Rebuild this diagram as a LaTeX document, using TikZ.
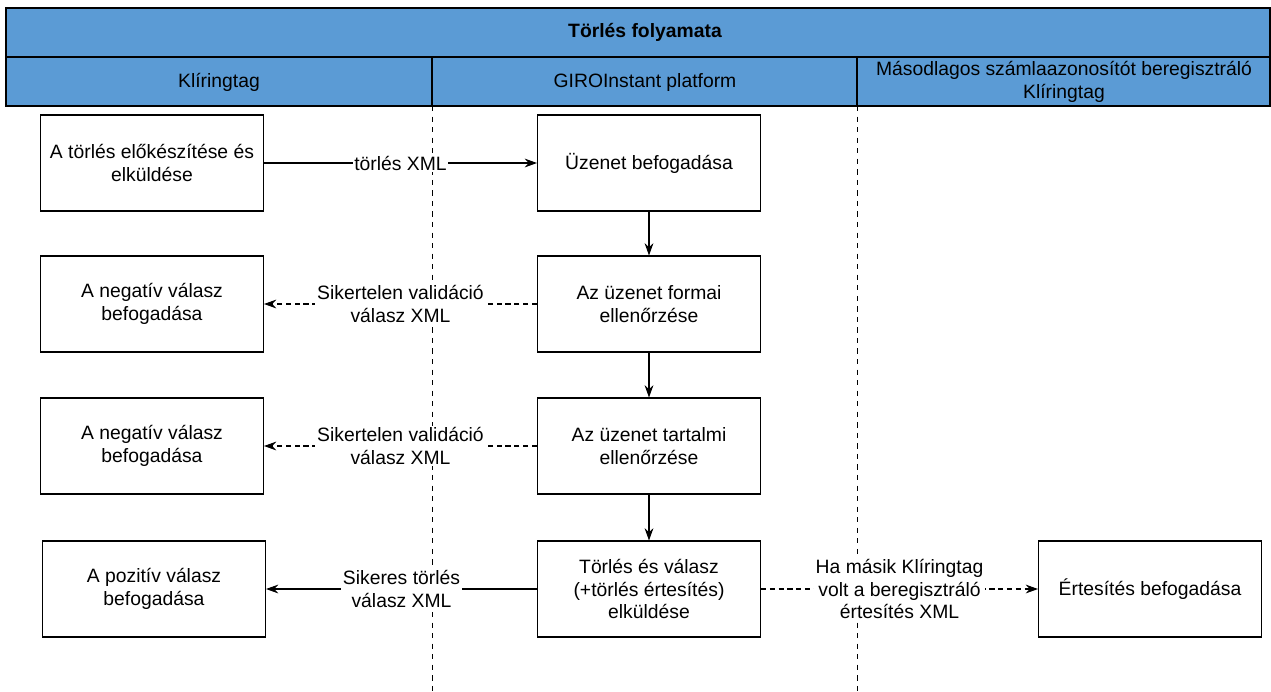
\documentclass[tikz,border=0pt]{standalone}
\usepackage{fontspec}
\setmainfont{Liberation Sans}
\usetikzlibrary{arrows.meta,positioning}
\definecolor{laneblue}{RGB}{91,155,213}
\tikzset{
	stepbox/.style={draw, fill=white, line width=0.6pt, minimum width=4.46cm, minimum height=1.92cm, align=center, font=\fontsize{11}{12.8}\selectfont},
	msglabel/.style={fill=white, align=center, inner sep=1pt, font=\fontsize{11}{12.8}\selectfont},
	lanelabel/.style={align=center, font=\fontsize{11}{12.8}\selectfont},
	flow/.style={-{Stealth[length=7pt,width=5pt]}, line width=0.6pt},
	reply/.style={flow, densely dashed}
}
\begin{document}
\begin{tikzpicture}[x=0.02cm, y=-0.02cm]
	\useasboundingbox (0,0) rectangle (1271,691);
	% header
	\fill[laneblue] (6,8) rectangle (1270,106);
	\draw[line width=0.8pt] (6,8) rectangle (1270,106);
	\draw[line width=0.8pt] (6,57) -- (1270,57);
	\draw[line width=0.8pt] (432,57) -- (432,106);
	\draw[line width=0.8pt] (857,57) -- (857,106);
	\node[lanelabel, font=\fontsize{11}{12.8}\selectfont\bfseries] (title) at (645,32) {Törlés folyamata};
	\node[lanelabel] (lane1) at (219,82) {Klíringtag};
	\node[lanelabel] (lane2) at (645,82) {GIROInstant platform};
	\node[lanelabel] (lane3) at (1064,82) {Másodlagos számlaazonosítót beregisztráló\\Klíringtag};
	% lane separators
	\draw[dashed, line width=0.5pt] (432,106) -- (432,691);
	\draw[dashed, line width=0.5pt] (857,106) -- (857,691);

	% boxes
	\node[stepbox] (prep) at (152,163) {A törlés előkészítése és\\elküldése};
	\node[stepbox] (recv) at (649,163) {Üzenet befogadása};
	\node[stepbox] (form) at (649,304) {Az üzenet formai\\ellenőrzése};
	\node[stepbox] (cont) at (649,446) {Az üzenet tartalmi\\ellenőrzése};
	\node[stepbox] (send) at (649,589) {Törlés és válasz\\(+törlés értesítés)\\elküldése};
	\node[stepbox] (neg1) at (152,304) {A negatív válasz\\befogadása};
	\node[stepbox] (neg2) at (152,446) {A negatív válasz\\befogadása};
	\node[stepbox] (pos) at (154,589) {A pozitív válasz\\befogadása};
	\node[stepbox] (notif) at (1150,589) {Értesítés befogadása};

	% messages
	\draw[flow] (prep) -- node[msglabel] {törlés XML} (recv);
	\draw[flow] (recv) -- (form);
	\draw[flow] (form) -- (cont);
	\draw[flow] (cont) -- (send);
	\draw[reply] (form) -- node[msglabel] {Sikertelen validáció\\válasz XML} (neg1);
	\draw[reply] (cont) -- node[msglabel] {Sikertelen validáció\\válasz XML} (neg2);
	\draw[flow] (send) -- node[msglabel] {Sikeres törlés\\válasz XML} (pos);
	\draw[reply] (send) -- node[msglabel] {Ha másik Klíringtag\\volt a beregisztráló\\értesítés XML} (notif);
\end{tikzpicture}
\end{document}
